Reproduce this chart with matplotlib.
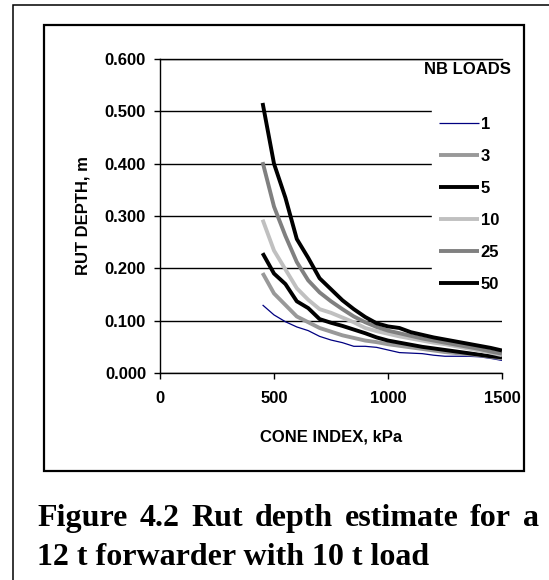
import matplotlib
matplotlib.use('Agg')
import matplotlib.pyplot as plt
from matplotlib.patches import Rectangle

# Cone index (kPa)
cone_index = [450, 500, 550, 600, 650, 700, 750, 800, 850, 900, 950, 1000,
              1050, 1100, 1150, 1200, 1250, 1300, 1350, 1400, 1450, 1500]

# Rut depth (m) for each number of loads
rut_1 = [0.130, 0.111, 0.098, 0.088, 0.081, 0.070, 0.063, 0.058, 0.051, 0.051, 0.049,
         0.044, 0.039, 0.038, 0.037, 0.034, 0.032, 0.032, 0.032, 0.031, 0.028, 0.024]
rut_3 = [0.191, 0.152, 0.130, 0.108, 0.097, 0.086, 0.079, 0.072, 0.067, 0.062, 0.059,
         0.055, 0.052, 0.049, 0.046, 0.043, 0.040, 0.038, 0.036, 0.034, 0.031, 0.028]
rut_5 = [0.229, 0.190, 0.170, 0.137, 0.124, 0.103, 0.096, 0.090, 0.083, 0.076, 0.068,
         0.062, 0.058, 0.054, 0.050, 0.047, 0.044, 0.041, 0.038, 0.035, 0.032, 0.030]
rut_10 = [0.293, 0.234, 0.198, 0.162, 0.140, 0.122, 0.115, 0.106, 0.097, 0.086, 0.080,
          0.075, 0.070, 0.066, 0.062, 0.058, 0.055, 0.051, 0.047, 0.043, 0.039, 0.034]
rut_25 = [0.403, 0.318, 0.262, 0.212, 0.177, 0.154, 0.137, 0.122, 0.108, 0.097, 0.088,
          0.081, 0.076, 0.071, 0.066, 0.062, 0.058, 0.054, 0.050, 0.046, 0.041, 0.037]
rut_50 = [0.516, 0.400, 0.335, 0.256, 0.220, 0.181, 0.160, 0.139, 0.122, 0.107, 0.095,
          0.089, 0.086, 0.078, 0.073, 0.068, 0.064, 0.060, 0.056, 0.052, 0.048, 0.043]

labels = ['1', '3', '5', '10', '25', '50']
series = [rut_1, rut_3, rut_5, rut_10, rut_25, rut_50]
colors = ['#000080', '#999999', '#000000', '#c0c0c0', '#808080', '#000000']
widths = [0.9, 2.8, 2.8, 2.8, 2.8, 2.8]

x_ticks = [0, 500, 1000, 1500]
y_ticks = [0.0, 0.1, 0.2, 0.3, 0.4, 0.5, 0.6]

plt.rcParams['font.family'] = ['Liberation Sans', 'DejaVu Sans']
plt.rcParams['font.weight'] = 'bold'

W, H = 549, 580
fig = plt.figure(figsize=(W / 100, H / 100), dpi=100)
ax = fig.add_axes([160 / W, 1 - 373 / H, 342 / W, 314 / H])

for y, lab, c, lw in zip(series, labels, colors, widths):
    ax.plot(cone_index, y, color=c, lw=lw, label=lab, solid_capstyle='butt')

ax.set_xlim(0, 1500)
ax.set_ylim(0, 0.6)
ax.set_xticks(x_ticks)
ax.set_yticks(y_ticks)
ax.set_yticklabels([f'{v:.3f}' for v in y_ticks])
ax.tick_params(axis='x', direction='out', length=4, width=1, pad=9, labelsize=12)
ax.tick_params(axis='y', direction='out', length=4, width=1, pad=6, labelsize=12)
for t in ax.get_xticklabels() + ax.get_yticklabels():
    t.set_fontweight('bold')

ax.yaxis.grid(True, color='black', lw=1)
ax.set_axisbelow(True)
ax.spines['right'].set_visible(False)
for s in ['left', 'bottom', 'top']:
    ax.spines[s].set_linewidth(1)

ax.set_xlabel('CONE INDEX, kPa', fontsize=12, fontweight='bold', labelpad=17)
ax.set_ylabel('RUT DEPTH, m', fontsize=12, fontweight='bold', labelpad=10)

leg = ax.legend(loc='upper left', bbox_to_anchor=(432 / W, 1 - 110 / H),
                bbox_transform=fig.transFigure, borderaxespad=0, borderpad=0.4,
                frameon=True, facecolor='white', edgecolor='white', framealpha=1,
                fancybox=False, handlelength=2.4, handletextpad=0.12,
                labelspacing=1.02, prop={'size': 12, 'weight': 'bold'})

fig.text(511 / W, 1 - 69 / H, 'NB LOADS', ha='right', va='center',
         fontsize=12, fontweight='bold')

# frames
fig.add_artist(Rectangle((44 / W, 1 - 471 / H), 480 / W, 446 / H, transform=fig.transFigure,
                         fill=False, lw=1.6, edgecolor='black'))
fig.add_artist(Rectangle((13.3 / W, -0.2), 1.5, 1.2 - 5 / H, transform=fig.transFigure,
                         fill=False, lw=1.1, edgecolor='black'))

# caption, first line justified
cap_font = dict(family=['Liberation Serif', 'DejaVu Serif'], fontsize=23, fontweight='bold')
words = 'Figure 4.2 Rut depth estimate for a'.split()
renderer = fig.canvas.get_renderer()
texts = [fig.text(0, 1 - 526 / H, w, va='baseline', **cap_font) for w in words]
wpx = [t.get_window_extent(renderer).width for t in texts]
left, right = 37, 539
gap = (right - left - sum(wpx)) / (len(words) - 1)
xpos = left
for t, w in zip(texts, wpx):
    t.set_x(xpos / W)
    xpos += w + gap
fig.text(37 / W, 1 - 565 / H, '12 t forwarder with 10 t load', va='baseline', **cap_font)

fig.savefig('out.png', dpi=100)
